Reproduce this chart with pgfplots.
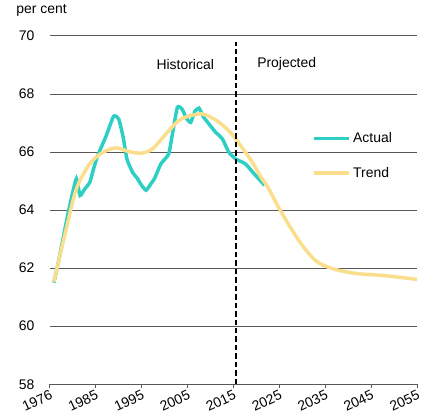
\documentclass[border=0pt]{standalone}
\usepackage{fontspec}
\setmainfont{Liberation Sans}
\usepackage{pgfplots}
\pgfplotsset{compat=1.18}
\definecolor{actualc}{RGB}{45,207,196}
\definecolor{trendc}{RGB}{250,222,140}
\newcommand{\chartfont}{\fontsize{14}{16}\selectfont}

\begin{document}
\begin{tikzpicture}[font=\chartfont]
\begin{axis}[
  width=369pt, height=350pt, scale only axis,
  xmin=1976, xmax=2056, ymin=58, ymax=70,
  xtick={1976,1986,...,2056},
  xticklabels={1976,1985,1995,2005,2015,2025,2035,2045,2055},
  ytick={58,60,...,70},
  /pgf/number format/assume math mode=true,
  tick label style={font=\chartfont},
  xticklabel style={rotate=25, anchor=north east, inner sep=1pt},
  yticklabel style={xshift=-8pt},
  axis x line*=bottom, axis y line*=left,
  y axis line style={draw=none}, ytick style={draw=none},
  x axis line style={-, draw=black!65, line width=0.8pt},
  xtick style={draw=black!65, line width=0.8pt},
  tick align=outside, major tick length=4pt,
  ymajorgrids, grid style={black!65, line width=0.8pt},
  clip=false,
  legend style={at={(0.713,0.728)}, anchor=north west, draw=none, fill=none,
    font=\chartfont, row sep=19pt, inner sep=0pt,
    nodes={inner sep=2pt},
    /tikz/every even column/.append style={column sep=9pt}},
  legend cell align=left,
  legend image code/.code={\draw[#1] (0pt,0pt) -- (36pt,0pt);},
]
% Actual
\addplot[actualc, line width=3.5pt, smooth, tension=0.3] coordinates {
(1976.9,61.5) (1978,62.3) (1979,63.1) (1980,63.9) (1981,64.6) (1981.8,65.08)
(1982.6,64.5) (1983.5,64.7) (1984.7,64.95) (1985.6,65.45) (1986.5,65.9)
(1988.3,66.56) (1989.9,67.23) (1991,67.14) (1992,66.5) (1992.8,65.76)
(1994,65.31) (1995.1,65.08) (1996,64.85) (1997,64.68) (1998,64.9) (1998.8,65.08)
(2000.2,65.59) (2001.9,65.93) (2002.8,66.7) (2003.8,67.54) (2004.8,67.48)
(2005.8,67.15) (2006.7,67.02) (2007.6,67.4) (2008.5,67.51) (2009.5,67.2)
(2010.7,66.96) (2012,66.7) (2013.6,66.45) (2015,65.99) (2016.5,65.76)
(2018.6,65.59) (2020.5,65.25) (2022.8,64.85)};
% Trend
\addplot[trendc, line width=3.5pt, smooth] coordinates {
(1976.9,61.53) (1979.6,63.36) (1981.8,64.73) (1984.7,65.59) (1987.6,65.99)
(1990.5,66.14) (1993.3,66.01) (1995.9,65.96) (1998.4,66.11) (2001.9,66.73)
(2004.1,67.08) (2006.5,67.25) (2009.2,67.31) (2011,67.2) (2012.9,67.02)
(2015,66.73) (2016.5,66.45) (2018.6,65.99) (2020.1,65.65) (2022.2,65.08)
(2023.5,64.79) (2026.2,63.99) (2030.2,62.96) (2033.8,62.27) (2037.4,61.99)
(2042.5,61.82) (2049,61.74) (2056,61.61)};
\legend{Actual,Trend}
% projection divider
\addplot[black, line width=2pt, dash pattern=on 5.5pt off 3pt, forget plot]
  coordinates {(2016.65,58) (2016.65,69.8)};
\node at (axis cs:2005.5,69.02) {Historical};
\node at (axis cs:2027.6,69.02) {Projected};
\node[anchor=west] at (rel axis cs:-0.1003,1.074) {per cent};
\end{axis}
\path ([xshift=-50pt,yshift=-34pt]current axis.south west)
  rectangle ([xshift=3pt,yshift=36pt]current axis.north east);
\end{tikzpicture}
\end{document}
